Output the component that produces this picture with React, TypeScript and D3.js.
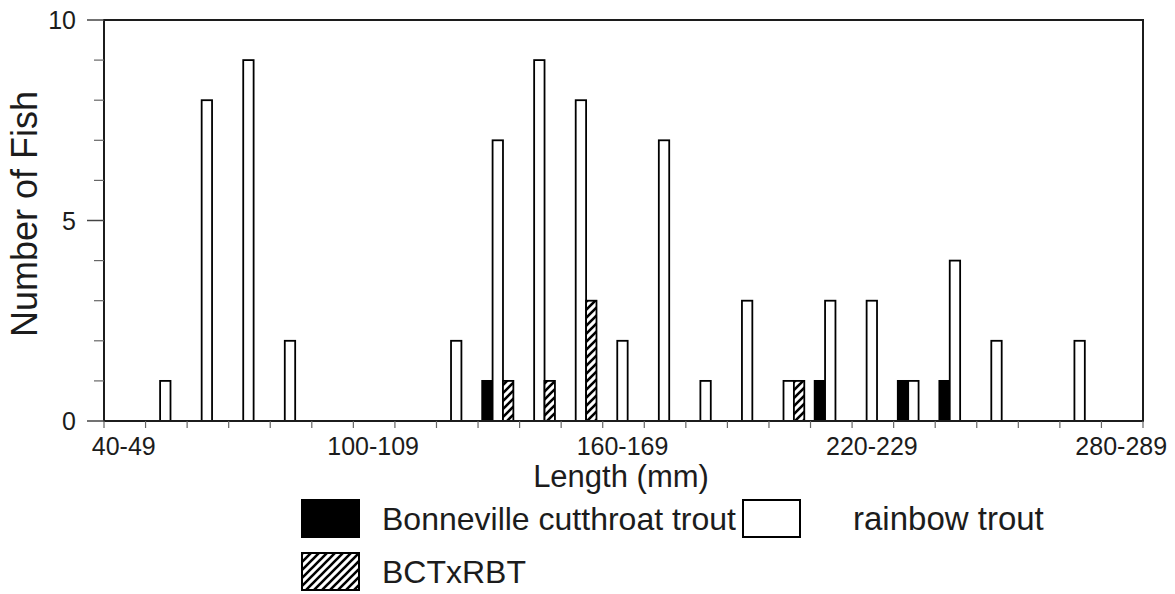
import React from "react";
import * as d3 from "d3";

// length bins (mm)
const lengthBins = [
  "40-49", "50-59", "60-69", "70-79", "80-89", "90-99", "100-109", "110-119",
  "120-129", "130-139", "140-149", "150-159", "160-169", "170-179", "180-189",
  "190-199", "200-209", "210-219", "220-229", "230-239", "240-249", "250-259",
  "260-269", "270-279", "280-289",
];
const labelledBins = ["40-49", "100-109", "160-169", "220-229", "280-289"];

// counts per bin
const bonnevilleCutthroat = [0, 0, 0, 0, 0, 0, 0, 0, 0, 1, 0, 0, 0, 0, 0, 0, 0, 1, 0, 1, 1, 0, 0, 0, 0];
const rainbowTrout = [0, 1, 8, 9, 2, 0, 0, 0, 2, 7, 9, 8, 2, 7, 1, 3, 1, 3, 3, 1, 4, 2, 0, 2, 0];
const hybrid = [0, 0, 0, 0, 0, 0, 0, 0, 0, 1, 1, 3, 0, 0, 0, 0, 1, 0, 0, 0, 0, 0, 0, 0, 0];

const seriesKeys = ["bct", "rbt", "hyb"];
const seriesValues: Record<string, number[]> = {
  bct: bonnevilleCutthroat,
  rbt: rainbowTrout,
  hyb: hybrid,
};
const seriesFill: Record<string, string> = {
  bct: "#000",
  rbt: "#fff",
  hyb: "url(#hatch)",
};

const yTicksMajor = [0, 5, 10];
const yTicksMinor = [1, 2, 3, 4, 6, 7, 8, 9];

const W = 1175;
const H = 594;
const left = 104;
const right = 1143;
const top = 20;
const bottom = 421;
const font = "'Liberation Sans', Arial, sans-serif";
const ink = "#1c1c1c";

export default function App() {
  const x = d3.scaleBand<string>().domain(lengthBins).range([left, right]);
  const x1 = d3
    .scaleBand<string>()
    .domain(seriesKeys)
    .range([0, x.bandwidth()])
    .paddingOuter(0.5)
    .align(0.4);
  const y = d3.scaleLinear().domain([0, 10]).range([bottom, top]);

  const boundaries = lengthBins.map((b) => x(b) as number).concat([right]);

  return (
    <svg
      width={W}
      height={H}
      style={{ position: "absolute", left: 0, top: 0, background: "#fff" }}
      fontFamily={font}
    >
      <defs>
        <pattern id="hatch" patternUnits="userSpaceOnUse" width="8" height="8">
          <rect width="8" height="8" fill="#fff" />
          <path
            d="M-2,2 L2,-2 M0,8 L8,0 M6,10 L10,6"
            stroke="#000"
            strokeWidth="2.6"
          />
        </pattern>
      </defs>

      {/* bars */}
      {seriesKeys.map((k) =>
        seriesValues[k].map((v, i) =>
          v > 0 ? (
            <rect
              key={k + i}
              x={(x(lengthBins[i]) as number) + (x1(k) as number)}
              y={y(v)}
              width={x1.bandwidth()}
              height={y(0) - y(v)}
              fill={seriesFill[k]}
              stroke="#000"
              strokeWidth={1.8}
            />
          ) : null
        )
      )}

      {/* frame */}
      <rect
        x={left}
        y={top}
        width={right - left}
        height={bottom - top}
        fill="none"
        stroke={ink}
        strokeWidth={2}
      />

      {/* y ticks */}
      {yTicksMajor.map((t) => (
        <g key={"M" + t} transform={`translate(${left},${y(t)})`}>
          <line x1={-17} x2={0} stroke="#444" strokeWidth={1.5} />
          <text x={-28} y={9} textAnchor="end" fontSize={25} fill={ink}>
            {t}
          </text>
        </g>
      ))}
      {yTicksMinor.map((t) => (
        <line
          key={"m" + t}
          x1={left - 10}
          x2={left}
          y1={y(t)}
          y2={y(t)}
          stroke="#666"
          strokeWidth={1.2}
        />
      ))}

      {/* x ticks */}
      {boundaries.map((bx, i) => (
        <line
          key={"xt" + i}
          x1={bx}
          x2={bx}
          y1={bottom}
          y2={bottom + 7}
          stroke="#666"
          strokeWidth={1.2}
        />
      ))}
      {labelledBins.map((b) => (
        <text
          key={b}
          x={(x(b) as number) + x.bandwidth() / 2 - 1}
          y={455}
          textAnchor="middle"
          fontSize={25}
          fill={ink}
        >
          {b}
        </text>
      ))}

      {/* axis titles */}
      <text x={621} y={487} textAnchor="middle" fontSize={31} fill={ink}>
        Length (mm)
      </text>
      <text
        transform="translate(37,214) rotate(-90)"
        textAnchor="middle"
        fontSize={36}
        fill={ink}
      >
        Number of Fish
      </text>

      {/* legend */}
      <rect x={302} y={500} width={57} height={37} fill="#000" stroke="#000" strokeWidth={2} />
      <text x={382} y={530} fontSize={32} fill={ink}>
        Bonneville cutthroat trout
      </text>
      <rect x={743} y={500} width={57} height={37} fill="#fff" stroke="#000" strokeWidth={2} />
      <text x={853} y={530} fontSize={33} fill={ink}>
        rainbow trout
      </text>
      <rect x={302} y={553} width={57} height={37} fill="url(#hatch)" stroke="#000" strokeWidth={2} />
      <text x={382} y={583} fontSize={32} fill={ink}>
        BCTxRBT
      </text>
    </svg>
  );
}
